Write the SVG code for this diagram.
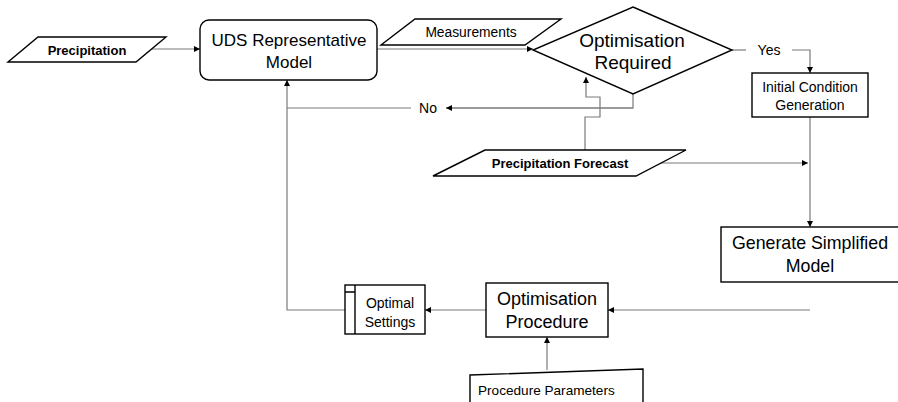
<svg xmlns="http://www.w3.org/2000/svg" width="898" height="402" viewBox="0 0 898 402">
<defs>
<marker id="ah" viewBox="0 0 10 10" refX="10" refY="5" markerWidth="6" markerHeight="6" orient="auto" markerUnits="userSpaceOnUse"><path d="M0,0 L10,5 L0,10 z" fill="#000"/></marker>
<style>
.s{fill:#fff;stroke:#000;stroke-width:1.4}
.c{fill:none;stroke:#7a7a7a;stroke-width:1.2}
.ca{fill:none;stroke:#7a7a7a;stroke-width:1.2;marker-end:url(#ah)}
.t{font-family:"Liberation Sans",Arial,sans-serif;fill:#000;text-anchor:middle;dominant-baseline:central}
.b{font-weight:bold}
</style>
</defs>
<rect width="898" height="402" fill="#fff"/>
<g id="connectors">
<path class="ca" d="M152,49 H200"/>
<path class="ca" d="M377,49 H533"/>
<path class="c" d="M732,50 H746"/>
<path class="ca" d="M792,50 H810 V73"/>
<path class="ca" d="M810,117 V227"/>
<path class="ca" d="M660,163 H808"/>
<path class="c" d="M633,94 V108 H446"/>
<path class="ca" d="M633,108 H446"/>
<path class="c" d="M411,108 H287"/>
<path class="ca" d="M585,150 V117 H600 V97 H586 V77"/>
<path class="ca" d="M810,310 H608"/>
<path class="ca" d="M486,310 H425"/>
<path class="ca" d="M345,310 H287 V80"/>
<path class="ca" d="M547,370 V337"/>
</g>
<g id="precipitation">
<polygon class="s" points="38,37 166,37 136,62 8,62"/>
<text class="t b" x="87" y="50" font-size="13">Precipitation</text>
</g>
<g id="uds-model">
<rect class="s" x="200" y="20" width="177" height="60" rx="9"/>
<text class="t" x="289" y="40" font-size="17">UDS Representative</text>
<text class="t" x="289" y="62" font-size="17">Model</text>
</g>
<g id="measurements">
<polygon class="s" points="415,19 561,19 525,45 381,45"/>
<text class="t" x="471" y="32" font-size="13.8">Measurements</text>
</g>
<g id="optimisation-required">
<polygon class="s" points="633,7 732,50 633,94 533,50"/>
<text class="t" x="632" y="40" font-size="19">Optimisation</text>
<text class="t" x="633" y="62" font-size="19">Required</text>
</g>
<g id="yes-label"><text class="t" x="769" y="50" font-size="14">Yes</text></g>
<g id="no-label"><text class="t" x="428" y="108" font-size="14">No</text></g>
<g id="initial-condition">
<rect class="s" x="752" y="73" width="116" height="44"/>
<text class="t" x="810" y="87" font-size="14">Initial Condition</text>
<text class="t" x="810" y="105" font-size="14">Generation</text>
</g>
<g id="precipitation-forecast">
<polygon class="s" points="485,150 686,150 636,176 433,176"/>
<text class="t b" x="560" y="163" font-size="13">Precipitation Forecast</text>
</g>
<g id="generate-simplified">
<rect class="s" x="721" y="227" width="180" height="55"/>
<text class="t" x="810" y="243" font-size="17.8">Generate Simplified</text>
<text class="t" x="810" y="266" font-size="17.8">Model</text>
</g>
<g id="optimisation-procedure">
<rect class="s" x="486" y="283" width="122" height="54"/>
<text class="t" x="547" y="299" font-size="18">Optimisation</text>
<text class="t" x="547" y="322" font-size="18">Procedure</text>
</g>
<g id="optimal-settings">
<rect class="s" x="345" y="285" width="80" height="49"/>
<path class="s" d="M355,285 V334 M345,292 H355"/>
<text class="t" x="390" y="303" font-size="14">Optimal</text>
<text class="t" x="390" y="322" font-size="14">Settings</text>
</g>
<g id="procedure-parameters">
<polygon class="s" points="470,375 643,369 643,403 470,403"/>
<text class="t" x="478" y="390" font-size="13.6" style="text-anchor:start">Procedure Parameters</text>
</g>
</svg>
